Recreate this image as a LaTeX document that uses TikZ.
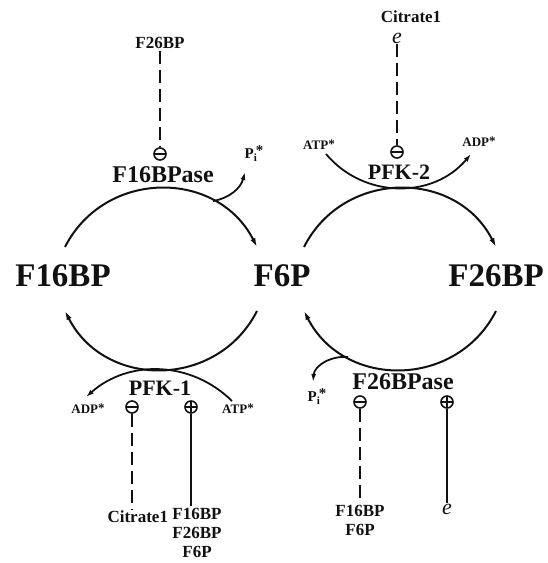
\documentclass[tikz,border=0pt]{standalone}
\usepackage{fontspec}
\setmainfont{Liberation Serif}
\usetikzlibrary{arrows.meta,positioning}
\definecolor{cInk}{HTML}{111111}
\tikzset{
  every picture/.style={line width=2pt},
  metab/.style={font=\bfseries\fontsize{33}{36}\selectfont, text=cInk, inner sep=1pt},
  enz/.style={font=\bfseries\fontsize{24}{26}\selectfont, text=cInk, inner sep=1pt},
  eff/.style={font=\bfseries\fontsize{17}{19}\selectfont, text=cInk, align=center, inner sep=1pt},
  effe/.style={font=\itshape\fontsize{22}{24}\selectfont, text=cInk, inner sep=0pt},
  cof/.style={font=\bfseries\fontsize{13}{14}\selectfont, text=cInk, inner sep=1pt},
  opbase/.style={circle, draw=cInk, line width=1.6pt, minimum size=12pt, inner sep=0pt, fill=white},
  opinh/.style={opbase, path picture={\draw[line width=1.8pt]
      (path picture bounding box.west) -- (path picture bounding box.east);}},
  opact/.style={opbase, path picture={\draw[line width=2.8pt]
      (path picture bounding box.west) -- (path picture bounding box.east)
      (path picture bounding box.north) -- (path picture bounding box.south);}},
  rxn/.style={-{Latex[length=9pt,width=5.5pt]}, draw=cInk},
  side/.style={-{Latex[length=8pt,width=5pt]}, draw=cInk, line width=1.8pt},
  reg/.style={draw=cInk, line width=2.3pt, dash pattern=on 13pt off 6pt},
  regp/.style={draw=cInk, line width=2.3pt},
}
\newcommand{\pistar}{{\fontsize{15}{16}\selectfont P\rlap{\raisebox{-3pt}{\fontsize{11}{11}\selectfont i}}\kern2pt\raisebox{3pt}{*}}}
\newcommand{\st}{\raisebox{1pt}{*}}

\begin{document}
\begin{tikzpicture}[x=1pt,y=1pt]
\useasboundingbox (0,0) rectangle (547,563);

\def\rMid{287}
\def\rTop{316}
\def\rBot{252}

% ---------------------------------------------------------------- the three sugars
\node[metab] (f16bp) at (63,\rMid) {F16BP};
\node[metab] (f6p) at (282,\rMid) {F6P};
\node[metab] (f26bp) at (496,\rMid) {F26BP};

% ---------------------------------------------------------------- the two cycles
\coordinate (Lnw) at (65,\rTop);
\coordinate (Lne) at (257,\rTop);
\coordinate (Lse) at (257,\rBot);
\coordinate (Lsw) at (65,\rBot);
\coordinate (Rnw) at (304,\rTop);
\coordinate (Rne) at (496,\rTop);
\coordinate (Rse) at (496,\rBot);
\coordinate (Rsw) at (304,\rBot);

\draw[rxn] (Lnw) to[bend left=63, looseness=1.17] (Lne);
\draw[rxn] (Lse) to[bend left=63, looseness=1.17] (Lsw);
\draw[rxn] (Rnw) to[bend left=63, looseness=1.17] (Rne);
\draw[rxn] (Rse) to[bend left=63, looseness=1.17] (Rsw);

% ---------------------------------------------------------------- F16BPase
\node[enz] (fbp1) at (163,388) {F16BPase};
\node[opinh] (i1) at (160,409) {};
\node[eff] (e1) at (160,520) {F26BP};
\draw[reg] (e1) -- (i1);

\coordinate (p1s) at (213,362);
\coordinate (p1e) at (245,391);
\node[cof] (pi1) at (254,409) {\pistar};
\draw[side] (p1s) to[out=10, in=-105] (p1e);

% ---------------------------------------------------------------- PFK-2
\node[enz, font=\bfseries\fontsize{22}{24}\selectfont] (pfk2) at (399,391) {PFK-2};
\node[opinh] (i2) at (397,411) {};
\node[effe] (e2) at (397,525) {e};
\node[eff] (cit2) at (411,546) {Citrate1};
\draw[reg] (e2) -- (i2);

\node[cof] (atp2) at (319,418) {ATP\st};
\node[cof] (adp2) at (479,421) {ADP\st};
\coordinate (k2a) at (326,409);
\coordinate (k2b) at (471,409);
\draw[side] (k2a) to[bend right=50, looseness=1.04] (k2b);

% ---------------------------------------------------------------- PFK-1
\node[enz, font=\bfseries\fontsize{22}{24}\selectfont] (pfk1) at (160,175) {PFK-1};
\node[opinh] (i3) at (132,156) {};
\node[opact] (a3) at (191,156) {};
\node[cof] (adp1) at (88,154) {ADP\st};
\node[cof] (atp1) at (238,154) {ATP\st};
\coordinate (k1a) at (232,162);
\coordinate (k1b) at (86,166);
\draw[side] (k1a) to[bend right=43] (k1b);

\node[eff, anchor=east] (cit1) at (170,46) {Citrate1};
\node[eff, anchor=north] (stk1) at (197,57) {F16BP\\F26BP\\F6P};
\draw[reg] (i3) -- (i3 |- cit1.north);
\draw[regp] (a3) -- (a3 |- stk1.north);

% ---------------------------------------------------------------- F26BPase
\node[enz] (fbp2) at (403,181) {F26BPase};
\node[opinh] (i4) at (360,161) {};
\node[opact] (a4) at (447,161) {};
\node[eff, anchor=north] (stk2) at (360,60) {F16BP\\F6P};
\node[effe] (e4) at (447,54) {e};
\draw[reg] (i4) -- (stk2);
\draw[regp] (a4) -- (e4);

\coordinate (p2s) at (348,206);
\coordinate (p2e) at (313,181);
\node[cof] (pi2) at (317,166) {\pistar};
\draw[side] (p2s) to[out=175, in=85] (p2e);

\end{tikzpicture}
\end{document}
